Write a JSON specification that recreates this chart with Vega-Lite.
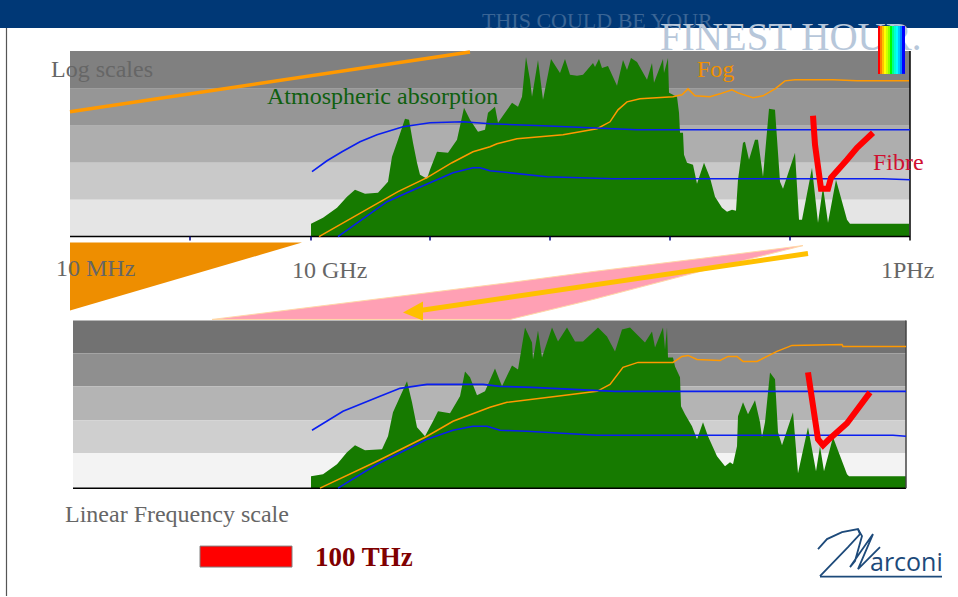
{"$schema":"https://vega.github.io/schema/vega-lite/v6.json","width":958,"height":597,"autosize":{"type":"fit","contains":"padding"},"padding":0,"background":"white","config":{"view":{"stroke":null}},
"datasets":{
"bands":[
{"band":"t1","x":70,"x2":910,"y":51,"y2":89},{"band":"t2","x":70,"x2":910,"y":89,"y2":126},{"band":"t3","x":70,"x2":910,"y":126,"y2":163},{"band":"t4","x":70,"x2":910,"y":163,"y2":200},{"band":"t5","x":70,"x2":910,"y":200,"y2":237},
{"band":"b1","x":73,"x2":906,"y":321,"y2":354},{"band":"b2","x":73,"x2":906,"y":354,"y2":387},{"band":"b3","x":73,"x2":906,"y":387,"y2":421},{"band":"b4","x":73,"x2":906,"y":421,"y2":454},{"band":"b5","x":73,"x2":906,"y":454,"y2":489}],
"blue":[
{"s":"tu","x":312,"y":172},{"s":"tu","x":327,"y":161},{"s":"tu","x":342,"y":152},{"s":"tu","x":360,"y":142},{"s":"tu","x":377,"y":135},{"s":"tu","x":403,"y":127},{"s":"tu","x":430,"y":123},{"s":"tu","x":463,"y":122},{"s":"tu","x":490,"y":124},{"s":"tu","x":543,"y":126},{"s":"tu","x":637,"y":130},{"s":"tu","x":910,"y":130},
{"s":"tl","x":338,"y":237},{"s":"tl","x":387,"y":202},{"s":"tl","x":407,"y":193},{"s":"tl","x":430,"y":183},{"s":"tl","x":453,"y":173},{"s":"tl","x":473,"y":168},{"s":"tl","x":480,"y":168},{"s":"tl","x":490,"y":171},{"s":"tl","x":547,"y":177},{"s":"tl","x":613,"y":179},{"s":"tl","x":883,"y":179},{"s":"tl","x":910,"y":180},
{"s":"bu","x":312,"y":431},{"s":"bu","x":343,"y":412},{"s":"bu","x":380,"y":397},{"s":"bu","x":400,"y":389},{"s":"bu","x":427,"y":385},{"s":"bu","x":483,"y":385},{"s":"bu","x":500,"y":387},{"s":"bu","x":532,"y":388},{"s":"bu","x":615,"y":392},{"s":"bu","x":906,"y":392},
{"s":"bl","x":338,"y":489},{"s":"bl","x":377,"y":465},{"s":"bl","x":407,"y":450},{"s":"bl","x":427,"y":440},{"s":"bl","x":453,"y":431},{"s":"bl","x":473,"y":427},{"s":"bl","x":487,"y":427},{"s":"bl","x":500,"y":431},{"s":"bl","x":527,"y":432},{"s":"bl","x":597,"y":436},{"s":"bl","x":893,"y":436},{"s":"bl","x":906,"y":437}],
"fog":[
{"s":"t","x":319,"y":237},{"s":"t","x":398,"y":192},{"s":"t","x":427,"y":178},{"s":"t","x":452,"y":163},{"s":"t","x":473,"y":152},{"s":"t","x":490,"y":147},{"s":"t","x":497,"y":144},{"s":"t","x":517,"y":139},{"s":"t","x":563,"y":135},{"s":"t","x":597,"y":129},{"s":"t","x":610,"y":122},{"s":"t","x":618,"y":110},{"s":"t","x":627,"y":102},{"s":"t","x":640,"y":99},{"s":"t","x":673,"y":97},{"s":"t","x":677,"y":96},{"s":"t","x":682,"y":95},{"s":"t","x":688,"y":89},{"s":"t","x":695,"y":96},{"s":"t","x":710,"y":97},{"s":"t","x":720,"y":94},{"s":"t","x":732,"y":90},{"s":"t","x":738,"y":93},{"s":"t","x":753,"y":98},{"s":"t","x":763,"y":96},{"s":"t","x":775,"y":89},{"s":"t","x":785,"y":81},{"s":"t","x":795,"y":80},{"s":"t","x":833,"y":80},{"s":"t","x":857,"y":81},{"s":"t","x":909,"y":81},
{"s":"b","x":320,"y":489},{"s":"b","x":377,"y":462},{"s":"b","x":427,"y":437},{"s":"b","x":453,"y":422},{"s":"b","x":490,"y":408},{"s":"b","x":507,"y":403},{"s":"b","x":557,"y":397},{"s":"b","x":597,"y":392},{"s":"b","x":610,"y":385},{"s":"b","x":623,"y":368},{"s":"b","x":638,"y":363},{"s":"b","x":673,"y":363},{"s":"b","x":682,"y":357},{"s":"b","x":688,"y":356},{"s":"b","x":697,"y":360},{"s":"b","x":720,"y":361},{"s":"b","x":728,"y":357},{"s":"b","x":737,"y":357},{"s":"b","x":743,"y":362},{"s":"b","x":757,"y":362},{"s":"b","x":777,"y":352},{"s":"b","x":792,"y":346},{"s":"b","x":842,"y":345},{"s":"b","x":843,"y":347},{"s":"b","x":906,"y":347}],
"fibre":[
{"s":"t","x":813,"y":116},{"s":"t","x":815,"y":145},{"s":"t","x":821,"y":189},{"s":"t","x":828,"y":189},{"s":"t","x":831,"y":178},{"s":"t","x":847,"y":160},{"s":"t","x":857,"y":148},{"s":"t","x":873,"y":133},
{"s":"b","x":808,"y":373},{"s":"b","x":818,"y":440},{"s":"b","x":823,"y":446},{"s":"b","x":828,"y":441},{"s":"b","x":847,"y":424},{"s":"b","x":870,"y":393}],
"logo":[
{"s":"a","i":1,"x":818,"y":550},{"s":"a","i":2,"x":827,"y":540},{"s":"a","i":3,"x":842,"y":533},{"s":"a","i":4,"x":858,"y":530},{"s":"a","i":5,"x":860,"y":535},{"s":"a","i":6,"x":848,"y":548},{"s":"a","i":7,"x":820,"y":577},
{"s":"m","i":1,"x":858,"y":530},{"s":"m","i":2,"x":862,"y":537},{"s":"m","i":3,"x":855,"y":562},{"s":"m","i":4,"x":850,"y":568},{"s":"m","i":5,"x":873,"y":535},{"s":"m","i":6,"x":858,"y":570},{"s":"m","i":7,"x":880,"y":548},
{"s":"u","i":1,"x":820,"y":577.5},{"s":"u","i":2,"x":942,"y":577.5}],
"rainbow":[{"h":0,"x":878,"x2":880,"y":26,"y2":74},{"h":1,"x":880,"x2":882,"y":26,"y2":74},{"h":2,"x":882,"x2":884,"y":26,"y2":74},{"h":3,"x":884,"x2":886,"y":26,"y2":74},{"h":4,"x":886,"x2":888,"y":26,"y2":74},{"h":5,"x":888,"x2":890,"y":26,"y2":74},{"h":6,"x":890,"x2":892,"y":26,"y2":74},{"h":7,"x":892,"x2":894,"y":26,"y2":74},{"h":8,"x":894,"x2":896,"y":26,"y2":74},{"h":9,"x":896,"x2":898,"y":26,"y2":74},{"h":10,"x":898,"x2":900,"y":26,"y2":74},{"h":11,"x":900,"x2":902,"y":26,"y2":74},{"h":12,"x":902,"x2":905,"y":26,"y2":74}]
},
"encoding":{"x":{"field":"x","type":"quantitative","scale":{"domain":[0,958],"nice":false,"zero":false},"axis":null},"y":{"field":"y","type":"quantitative","scale":{"domain":[597,0],"nice":false,"zero":false},"axis":null}},
"resolve":{"scale":{"color":"independent"}},
"layer":[
{"data":{"values":[{"x":0,"x2":958,"y":0,"y2":28}]},"mark":{"type":"rect","fill":"#003876"},"encoding":{"x2":{"field":"x2"},"y2":{"field":"y2"}}},
{"data":{"values":[{"x":6.5,"y":28,"y2":597}]},"mark":{"type":"rule","stroke":"#555555","strokeWidth":1.2},"encoding":{"y2":{"field":"y2"}}},
{"data":{"values":[{"x":482,"y":28,"t":"THIS COULD BE YOUR"}]},"mark":{"type":"text","align":"left","baseline":"alphabetic","font":"Liberation Serif","fontSize":22,"fill":"#3A6595"},"encoding":{"text":{"field":"t"}}},
{"data":{"values":[{"x":660,"y":50,"t":"FINEST HOUR."}]},"mark":{"type":"text","align":"left","baseline":"alphabetic","font":"Liberation Serif","fontSize":39,"fill":"#B7C7DA"},"encoding":{"text":{"field":"t"}}},
{"data":{"name":"bands"},"mark":{"type":"rect"},"encoding":{"x2":{"field":"x2"},"y2":{"field":"y2"},"color":{"field":"band","type":"nominal","legend":null,"scale":{"domain":["t1","t2","t3","t4","t5","b1","b2","b3","b4","b5"],"range":["#808080","#969696","#AEAEAE","#C9C9C9","#E5E5E5","#727272","#8F8F8F","#B4B4B4","#CFCFCF","#F3F3F3"]}}}},
{"data":{"values":[{"x":311,"y":224},{"x":323,"y":218},{"x":337,"y":208},{"x":347,"y":197},{"x":355,"y":190},{"x":365,"y":194},{"x":378,"y":193},{"x":388,"y":182},{"x":392,"y":157},{"x":398,"y":140},{"x":405,"y":119},{"x":409,"y":120},{"x":413,"y":143},{"x":417,"y":163},{"x":420,"y":175},{"x":427,"y":179},{"x":430,"y":170},{"x":437,"y":152},{"x":448,"y":153},{"x":457,"y":140},{"x":464,"y":108},{"x":470,"y":120},{"x":478,"y":132},{"x":485,"y":130},{"x":488,"y":113},{"x":495,"y":107},{"x":498,"y":123},{"x":505,"y":113},{"x":512,"y":103},{"x":518,"y":107},{"x":522,"y":97},{"x":526,"y":57},{"x":530,"y":80},{"x":532,"y":97},{"x":538,"y":60},{"x":543,"y":100},{"x":551,"y":59},{"x":560,"y":73},{"x":565,"y":59},{"x":570,"y":75},{"x":577,"y":76},{"x":583,"y":75},{"x":593,"y":63},{"x":595,"y":67},{"x":599,"y":59},{"x":602,"y":68},{"x":608,"y":66},{"x":617,"y":86},{"x":623,"y":60},{"x":627,"y":70},{"x":631,"y":58},{"x":637,"y":62},{"x":647,"y":80},{"x":652,"y":63},{"x":654,"y":83},{"x":663,"y":59},{"x":664,"y":73},{"x":668,"y":58},{"x":669,"y":93},{"x":677,"y":97},{"x":679,"y":113},{"x":680,"y":133},{"x":683,"y":133},{"x":684,"y":155},{"x":687,"y":163},{"x":693,"y":165},{"x":697,"y":184},{"x":704,"y":163},{"x":710,"y":178},{"x":715,"y":197},{"x":722,"y":208},{"x":727,"y":212},{"x":732,"y":210},{"x":736,"y":211},{"x":738,"y":180},{"x":743,"y":143},{"x":745,"y":142},{"x":749,"y":160},{"x":755,"y":140},{"x":758,"y":140},{"x":763,"y":177},{"x":769,"y":109},{"x":775,"y":110},{"x":780,"y":182},{"x":783,"y":189},{"x":795,"y":153},{"x":799,"y":220},{"x":802,"y":220},{"x":812,"y":168},{"x":818,"y":223},{"x":823,"y":187},{"x":828,"y":223},{"x":836,"y":180},{"x":847,"y":220},{"x":850,"y":224},{"x":909,"y":224}]},"mark":{"type":"area","orient":"vertical","fill":"#167A00"},"encoding":{"y2":{"datum":237}}},
{"data":{"values":[{"x":311,"y":477},{"x":323,"y":475},{"x":337,"y":465},{"x":347,"y":453},{"x":355,"y":446},{"x":365,"y":451},{"x":382,"y":450},{"x":388,"y":437},{"x":393,"y":413},{"x":407,"y":382},{"x":412,"y":403},{"x":417,"y":428},{"x":425,"y":437},{"x":433,"y":422},{"x":438,"y":412},{"x":450,"y":414},{"x":460,"y":397},{"x":465,"y":372},{"x":470,"y":378},{"x":477,"y":396},{"x":485,"y":392},{"x":495,"y":369},{"x":502,"y":387},{"x":512,"y":366},{"x":518,"y":370},{"x":525,"y":328},{"x":532,"y":343},{"x":533,"y":360},{"x":538,"y":331},{"x":542,"y":358},{"x":552,"y":328},{"x":558,"y":342},{"x":567,"y":328},{"x":575,"y":342},{"x":583,"y":342},{"x":598,"y":328},{"x":607,"y":337},{"x":615,"y":352},{"x":622,"y":330},{"x":630,"y":328},{"x":645,"y":343},{"x":652,"y":332},{"x":655,"y":348},{"x":663,"y":328},{"x":665,"y":350},{"x":667,"y":328},{"x":668,"y":358},{"x":673,"y":358},{"x":675,"y":367},{"x":680,"y":378},{"x":681,"y":407},{"x":685,"y":415},{"x":692,"y":427},{"x":697,"y":440},{"x":703,"y":423},{"x":708,"y":437},{"x":717,"y":457},{"x":725,"y":467},{"x":730,"y":463},{"x":733,"y":465},{"x":737,"y":447},{"x":738,"y":417},{"x":743,"y":403},{"x":748,"y":415},{"x":755,"y":401},{"x":760,"y":423},{"x":762,"y":438},{"x":765,"y":423},{"x":770,"y":373},{"x":775,"y":380},{"x":778,"y":433},{"x":782,"y":446},{"x":793,"y":413},{"x":798,"y":474},{"x":808,"y":428},{"x":816,"y":472},{"x":820,"y":447},{"x":824,"y":472},{"x":833,"y":438},{"x":847,"y":475},{"x":849,"y":477},{"x":906,"y":477}]},"mark":{"type":"area","orient":"vertical","fill":"#167A00"},"encoding":{"y2":{"datum":489}}},
{"data":{"values":[{"x":70,"y":243,"yb":311},{"x":302,"y":243,"yb":243}]},"mark":{"type":"area","orient":"vertical","fill":"#EE8E00"},"encoding":{"y2":{"field":"yb"}}},
{"data":{"values":[{"x":212,"y":320,"yb":320},{"x":510,"y":283,"yb":320},{"x":593,"y":272,"yb":300},{"x":700,"y":259,"yb":272},{"x":803,"y":246,"yb":246}]},"mark":{"type":"area","orient":"vertical","fill":"#FFA0B4","stroke":"#FFD8A8","strokeWidth":1},"encoding":{"y2":{"field":"yb"}}},
{"data":{"values":[{"x":420,"y":311},{"x":808,"y":254}]},"mark":{"type":"line","stroke":"#FFC000","strokeWidth":5},"encoding":{}},
{"data":{"values":[{"x":403,"y":313,"yb":313},{"x":423,"y":302,"yb":321}]},"mark":{"type":"area","orient":"vertical","fill":"#FFC000"},"encoding":{"y2":{"field":"yb"}}},
{"data":{"values":[{"x":70,"y":237,"x2":910},{"x":73,"y":489,"x2":906}]},"mark":{"type":"rule","stroke":"#000000","strokeWidth":1.5},"encoding":{"x2":{"field":"x2"}}},
{"data":{"values":[{"x":910,"y":51,"y2":241}]},"mark":{"type":"rule","stroke":"#000000","strokeWidth":1.5},"encoding":{"y2":{"field":"y2"}}},
{"data":{"values":[{"x":906,"y":321,"y2":489}]},"mark":{"type":"rule","stroke":"#444444","strokeWidth":1.5},"encoding":{"y2":{"field":"y2"}}},
{"data":{"values":[{"x":190,"y":237,"y2":241},{"x":311,"y":237,"y2":241},{"x":430,"y":237,"y2":241},{"x":550,"y":237,"y2":241},{"x":670,"y":237,"y2":241},{"x":790,"y":237,"y2":241}]},"mark":{"type":"rule","stroke":"#00007F","strokeWidth":1.5},"encoding":{"y2":{"field":"y2"}}},
{"data":{"values":[{"x":70,"y":112},{"x":470,"y":52}]},"mark":{"type":"line","stroke":"#FF9900","strokeWidth":3.5},"encoding":{}},
{"data":{"name":"fog"},"mark":{"type":"line","stroke":"#FF9900","strokeWidth":1.5},"encoding":{"detail":{"field":"s"}}},
{"data":{"name":"blue"},"mark":{"type":"line","stroke":"#0A1EF0","strokeWidth":1.6},"encoding":{"detail":{"field":"s"}}},
{"data":{"name":"fibre"},"mark":{"type":"line","stroke":"#FF0000","strokeWidth":6},"encoding":{"detail":{"field":"s"}}},
{"data":{"name":"rainbow"},"mark":{"type":"rect"},"encoding":{"x2":{"field":"x2"},"y2":{"field":"y2"},"color":{"field":"h","type":"quantitative","legend":null,"scale":{"domain":[0,3,6,9,12],"range":["#FF0000","#FFFF00","#00FF00","#00FFFF","#0000FF"]}}}},
{"data":{"values":[{"x":200,"x2":292,"y":547,"y2":568}]},"mark":{"type":"rect","fill":"#FF0000","stroke":"#808080","strokeWidth":1},"encoding":{"x2":{"field":"x2"},"y2":{"field":"y2"}}},
{"data":{"values":[{"x":51,"y":77,"t":"Log scales"},{"x":56,"y":276,"t":"10 MHz"},{"x":292,"y":278,"t":"10 GHz"},{"x":881,"y":278,"t":"1PHz"},{"x":65,"y":523,"t":"Linear Frequency scale"}]},"mark":{"type":"text","align":"left","baseline":"alphabetic","font":"Liberation Serif","fontSize":24,"fill":"#666666"},"encoding":{"text":{"field":"t"}}},
{"data":{"values":[{"x":267,"y":104,"t":"Atmospheric absorption"}]},"mark":{"type":"text","align":"left","baseline":"alphabetic","font":"Liberation Serif","fontSize":24,"fill":"#0F5F0F"},"encoding":{"text":{"field":"t"}}},
{"data":{"values":[{"x":697,"y":77,"t":"Fog"}]},"mark":{"type":"text","align":"left","baseline":"alphabetic","font":"Liberation Serif","fontSize":24,"fill":"#F09000"},"encoding":{"text":{"field":"t"}}},
{"data":{"values":[{"x":873,"y":170,"t":"Fibre"}]},"mark":{"type":"text","align":"left","baseline":"alphabetic","font":"Liberation Serif","fontSize":24,"fill":"#D01030"},"encoding":{"text":{"field":"t"}}},
{"data":{"values":[{"x":315,"y":567,"t":"100 THz"}]},"mark":{"type":"text","align":"left","baseline":"alphabetic","font":"Liberation Serif","fontSize":27,"fontWeight":"bold","fill":"#7F0000"},"encoding":{"text":{"field":"t"}}},
{"data":{"name":"logo"},"mark":{"type":"line","stroke":"#1D4A7A","strokeWidth":1.8},"encoding":{"detail":{"field":"s"},"order":{"field":"i"}}},
{"data":{"values":[{"x":870,"y":572,"t":"arconi"}]},"mark":{"type":"text","align":"left","baseline":"alphabetic","font":"Open Sans","fontSize":25,"fill":"#1D4A7A"},"encoding":{"text":{"field":"t"}}}
]}
